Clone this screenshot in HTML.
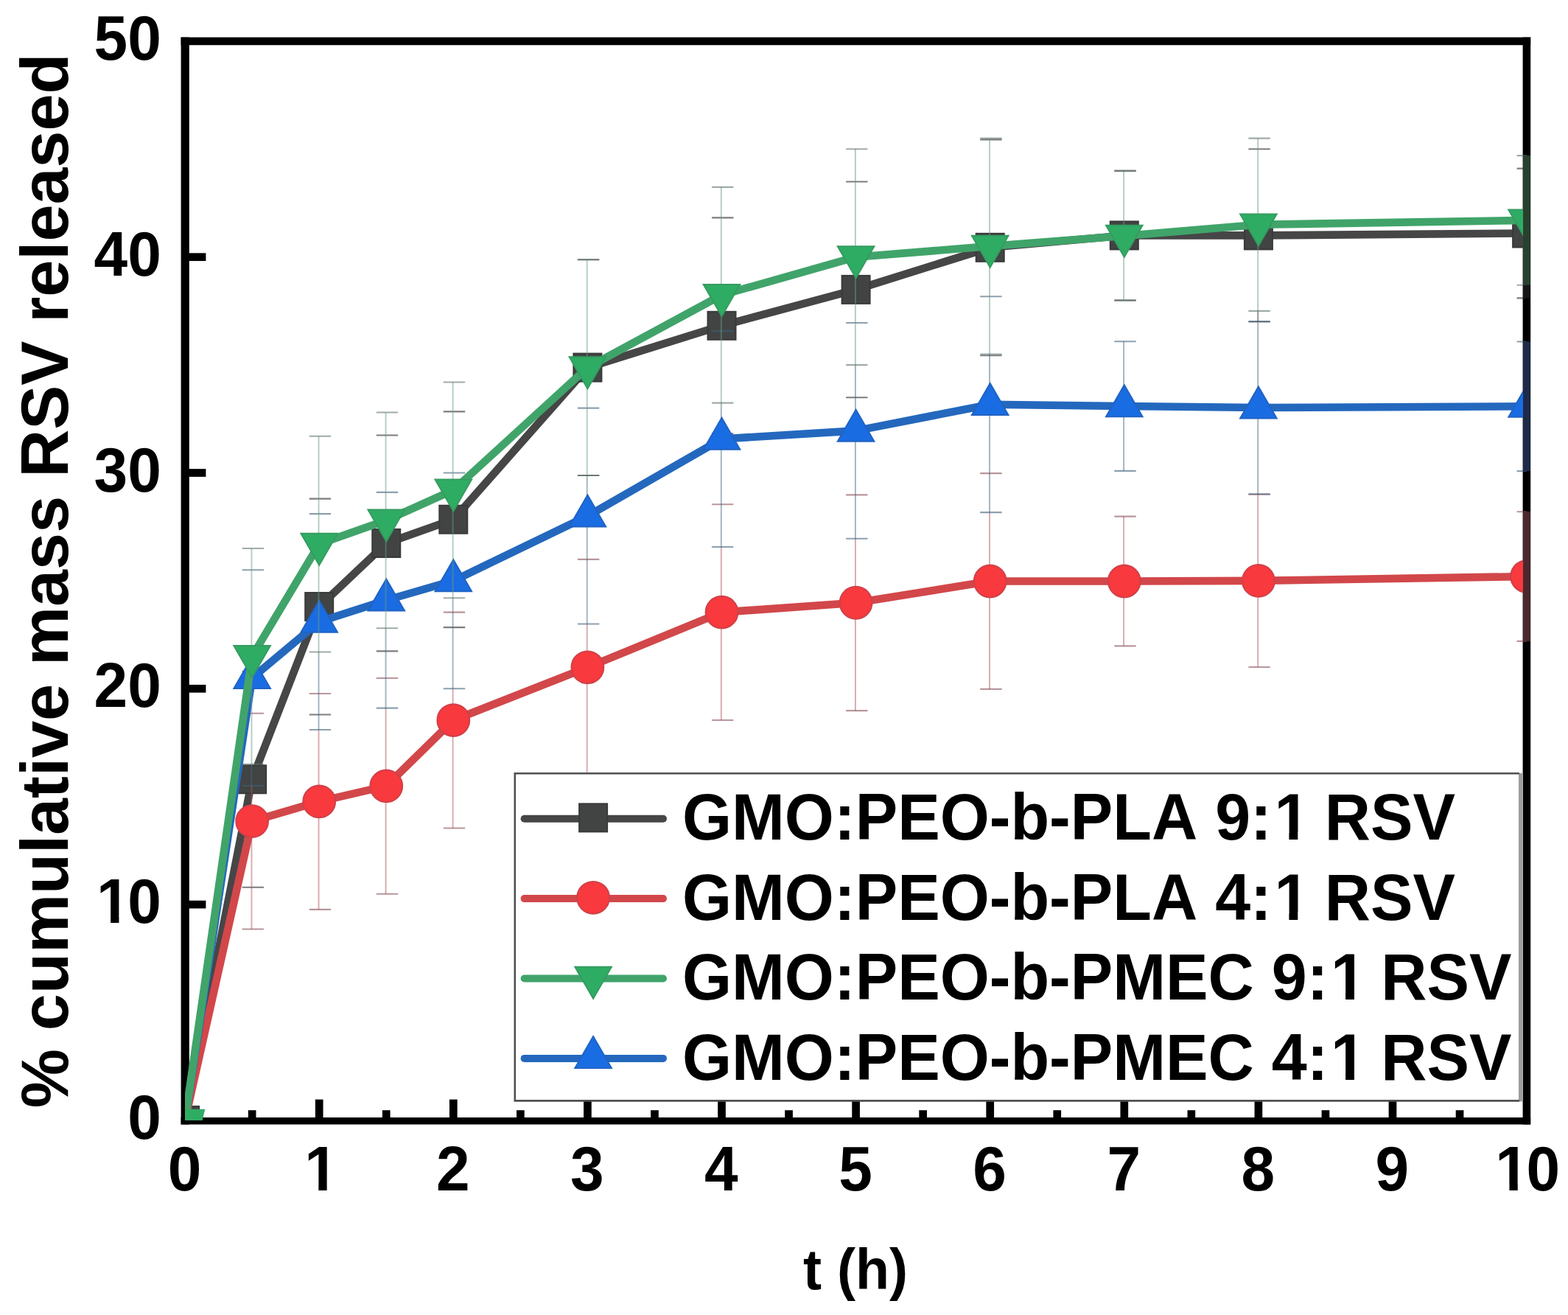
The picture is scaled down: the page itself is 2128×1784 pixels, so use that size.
<!DOCTYPE html>
<html lang="en"><head><meta charset="utf-8"><title>% cumulative mass RSV released vs t (h)</title>
<style>html,body{margin:0;padding:0;background:#fff;}body{width:2128px;height:1784px;overflow:hidden;}svg{display:block;}text{font-family:'Liberation Sans', sans-serif;font-weight:700;fill:#000;white-space:pre;font-kerning:none;}</style>
</head><body>
<svg width="2128" height="1784" viewBox="0 0 2128 1784">
<rect x="0" y="0" width="2128" height="1784" fill="#ffffff"/>
<defs><clipPath id="plotclip"><rect x="251.1" y="55.9" width="1821" height="1464"/></clipPath></defs>
<g id="frame" fill="#000">
<rect x="245.6" y="50.6" width="11.2" height="1474.9"/>
<rect x="2066.6" y="50.6" width="10.6" height="1474.9"/>
<rect x="245.6" y="50.6" width="1831.6" height="10.6"/>
<rect x="245.6" y="1516" width="1831.6" height="9.5"/>
<rect x="336.8" y="1506.2" width="10.7" height="10.8"/>
<rect x="427.85" y="1491.6" width="10.7" height="25.4"/>
<rect x="518.9" y="1506.2" width="10.7" height="10.8"/>
<rect x="609.95" y="1491.6" width="10.7" height="25.4"/>
<rect x="701" y="1506.2" width="10.7" height="10.8"/>
<rect x="792.05" y="1491.6" width="10.7" height="25.4"/>
<rect x="883.1" y="1506.2" width="10.7" height="10.8"/>
<rect x="974.15" y="1491.6" width="10.7" height="25.4"/>
<rect x="1065.2" y="1506.2" width="10.7" height="10.8"/>
<rect x="1156.25" y="1491.6" width="10.7" height="25.4"/>
<rect x="1247.3" y="1506.2" width="10.7" height="10.8"/>
<rect x="1338.35" y="1491.6" width="10.7" height="25.4"/>
<rect x="1429.4" y="1506.2" width="10.7" height="10.8"/>
<rect x="1520.45" y="1491.6" width="10.7" height="25.4"/>
<rect x="1611.5" y="1506.2" width="10.7" height="10.8"/>
<rect x="1702.55" y="1491.6" width="10.7" height="25.4"/>
<rect x="1793.6" y="1506.2" width="10.7" height="10.8"/>
<rect x="1884.65" y="1491.6" width="10.7" height="25.4"/>
<rect x="1975.7" y="1506.2" width="10.7" height="10.8"/>
<rect x="255.8" y="1221.75" width="23.6" height="10.7"/>
<rect x="255.8" y="928.95" width="23.6" height="10.7"/>
<rect x="255.8" y="636.15" width="23.6" height="10.7"/>
<rect x="255.8" y="343.35" width="23.6" height="10.7"/>
</g>
<g id="data" clip-path="url(#plotclip)">
<g class="series-black">
<polyline points="251.1,1519.9 342.15,1057.28 433.2,823.04 524.25,736.95 615.3,704.74 797.4,498.61 979.5,441.81 1161.6,392.91 1343.7,335.82 1525.8,319.42 1707.9,319.42 2072.1,316.49" fill="none" stroke="#464646" stroke-width="10.6" stroke-linejoin="round"/>
<path d="M1525.1 231.58V232.17M1707.2 421.9V435.95" fill="none" stroke="#2a2a2a" stroke-width="1.9" stroke-opacity="0.5"/>
<path d="M328.65 910.88H358.05M328.65 1203.68H358.05M419.7 676.64H449.1M419.7 969.44H449.1M510.75 590.55H540.15M510.75 883.35H540.15M601.8 558.34H631.2M601.8 851.14H631.2M783.9 352.21H813.3M783.9 645.01H813.3M966 295.41H995.4M966 588.21H995.4M1148.1 246.51H1177.5M1148.1 539.31H1177.5M1330.2 189.42H1359.6M1330.2 482.22H1359.6M1512.3 231.58H1541.7M1512.3 407.26H1541.7M1694.4 202.3H1723.8M1694.4 436.54H1723.8M2058.6 228.65H2088M2058.6 404.33H2088" fill="none" stroke="#262626" stroke-width="2.1" stroke-opacity="0.6"/>
<rect x="232.1" y="1500.9" width="38" height="38" fill="#414443" stroke="#3a3a3a" stroke-width="2"/>
<rect x="323.15" y="1038.28" width="38" height="38" fill="#414443" stroke="#3a3a3a" stroke-width="2"/>
<rect x="414.2" y="804.04" width="38" height="38" fill="#414443" stroke="#3a3a3a" stroke-width="2"/>
<rect x="505.25" y="717.95" width="38" height="38" fill="#414443" stroke="#3a3a3a" stroke-width="2"/>
<rect x="596.3" y="685.74" width="38" height="38" fill="#414443" stroke="#3a3a3a" stroke-width="2"/>
<rect x="778.4" y="479.61" width="38" height="38" fill="#414443" stroke="#3a3a3a" stroke-width="2"/>
<rect x="960.5" y="422.81" width="38" height="38" fill="#414443" stroke="#3a3a3a" stroke-width="2"/>
<rect x="1142.6" y="373.91" width="38" height="38" fill="#414443" stroke="#3a3a3a" stroke-width="2"/>
<rect x="1324.7" y="316.82" width="38" height="38" fill="#414443" stroke="#3a3a3a" stroke-width="2"/>
<rect x="1506.8" y="300.42" width="38" height="38" fill="#414443" stroke="#3a3a3a" stroke-width="2"/>
<rect x="1688.9" y="300.42" width="38" height="38" fill="#414443" stroke="#3a3a3a" stroke-width="2"/>
<rect x="2053.1" y="297.49" width="38" height="38" fill="#414443" stroke="#3a3a3a" stroke-width="2"/>
</g>
<g class="series-red">
<polyline points="251.1,1519.9 342.15,1114.08 433.2,1087.43 524.25,1066.35 615.3,977.05 797.4,905.31 979.5,830.65 1161.6,817.77 1343.7,788.49 1525.8,788.49 1707.9,787.9 2072.1,782.04" fill="none" stroke="#d2474a" stroke-width="10.6" stroke-linejoin="round"/>
<path d="M341.45 1066.06V1260.48M432.5 989.93V1233.83M523.55 960.65V1212.75M614.6 934.3V1123.45M796.7 846.46V1051.71M978.8 741.93V977.05M1160.9 730.8V964.17M1343 695.08V934.89M1525.1 700.65V876.33M1707.2 670.78V905.02" fill="none" stroke="#b1535d" stroke-width="1.9" stroke-opacity="0.5"/>
<path d="M328.65 967.68H358.05M328.65 1260.48H358.05M419.7 941.03H449.1M419.7 1233.83H449.1M510.75 919.95H540.15M510.75 1212.75H540.15M601.8 830.65H631.2M601.8 1123.45H631.2M783.9 758.91H813.3M783.9 1051.71H813.3M966 684.25H995.4M966 977.05H995.4M1148.1 671.37H1177.5M1148.1 964.17H1177.5M1330.2 642.09H1359.6M1330.2 934.89H1359.6M1512.3 700.65H1541.7M1512.3 876.33H1541.7M1694.4 670.78H1723.8M1694.4 905.02H1723.8M2058.6 694.2H2088M2058.6 869.88H2088" fill="none" stroke="#8a5058" stroke-width="2.1" stroke-opacity="0.6"/>
<circle cx="342.15" cy="1114.08" r="21.9" fill="#f8393d" stroke="#cf4148" stroke-width="2"/>
<circle cx="433.2" cy="1087.43" r="21.9" fill="#f8393d" stroke="#cf4148" stroke-width="2"/>
<circle cx="524.25" cy="1066.35" r="21.9" fill="#f8393d" stroke="#cf4148" stroke-width="2"/>
<circle cx="615.3" cy="977.05" r="21.9" fill="#f8393d" stroke="#cf4148" stroke-width="2"/>
<circle cx="797.4" cy="905.31" r="21.9" fill="#f8393d" stroke="#cf4148" stroke-width="2"/>
<circle cx="979.5" cy="830.65" r="21.9" fill="#f8393d" stroke="#cf4148" stroke-width="2"/>
<circle cx="1161.6" cy="817.77" r="21.9" fill="#f8393d" stroke="#cf4148" stroke-width="2"/>
<circle cx="1343.7" cy="788.49" r="21.9" fill="#f8393d" stroke="#cf4148" stroke-width="2"/>
<circle cx="1525.8" cy="788.49" r="21.9" fill="#f8393d" stroke="#cf4148" stroke-width="2"/>
<circle cx="1707.9" cy="787.9" r="21.9" fill="#f8393d" stroke="#cf4148" stroke-width="2"/>
<circle cx="2072.1" cy="782.04" r="21.9" fill="#f8393d" stroke="#cf4148" stroke-width="2"/>
</g>
<g class="series-blue">
<polyline points="251.1,1519.9 342.15,919.66 433.2,843.53 524.25,814.25 615.3,787.9 797.4,700.06 979.5,595.53 1161.6,584.4 1343.7,548.68 1525.8,551.02 1707.9,553.07 2072.1,551.32" fill="none" stroke="#2468be" stroke-width="10.6" stroke-linejoin="round"/>
<path d="M341.45 1036.78V1066.06M432.5 884.52V989.93M523.55 852.32V960.65M614.6 811.32V934.3M796.7 645.01V846.46M978.8 546.63V741.93M1160.9 495.1V730.8M1343 480.46V695.08M1525.1 463.18V638.86M1707.2 435.95V670.19" fill="none" stroke="#45677d" stroke-width="1.9" stroke-opacity="0.5"/>
<path d="M328.65 773.26H358.05M328.65 1066.06H358.05M419.7 697.13H449.1M419.7 989.93H449.1M510.75 667.85H540.15M510.75 960.65H540.15M601.8 641.5H631.2M601.8 934.3H631.2M783.9 553.66H813.3M783.9 846.46H813.3M966 449.13H995.4M966 741.93H995.4M1148.1 438H1177.5M1148.1 730.8H1177.5M1330.2 402.28H1359.6M1330.2 695.08H1359.6M1512.3 463.18H1541.7M1512.3 638.86H1541.7M1694.4 435.95H1723.8M1694.4 670.19H1723.8M2058.6 463.48H2088M2058.6 639.16H2088" fill="none" stroke="#3f617a" stroke-width="2.1" stroke-opacity="0.6"/>
<polygon points="317.38,933.99 366.92,933.99 342.15,890.99" fill="#1a6ce2" stroke="#2063c4" stroke-width="2"/>
<polygon points="408.43,857.87 457.97,857.87 433.2,814.87" fill="#1a6ce2" stroke="#2063c4" stroke-width="2"/>
<polygon points="499.48,828.59 549.02,828.59 524.25,785.59" fill="#1a6ce2" stroke="#2063c4" stroke-width="2"/>
<polygon points="590.53,802.23 640.07,802.23 615.3,759.23" fill="#1a6ce2" stroke="#2063c4" stroke-width="2"/>
<polygon points="772.63,714.39 822.17,714.39 797.4,671.39" fill="#1a6ce2" stroke="#2063c4" stroke-width="2"/>
<polygon points="954.73,609.86 1004.27,609.86 979.5,566.86" fill="#1a6ce2" stroke="#2063c4" stroke-width="2"/>
<polygon points="1136.83,598.74 1186.37,598.74 1161.6,555.74" fill="#1a6ce2" stroke="#2063c4" stroke-width="2"/>
<polygon points="1318.93,563.02 1368.47,563.02 1343.7,520.02" fill="#1a6ce2" stroke="#2063c4" stroke-width="2"/>
<polygon points="1501.03,565.36 1550.57,565.36 1525.8,522.36" fill="#1a6ce2" stroke="#2063c4" stroke-width="2"/>
<polygon points="1683.13,567.41 1732.67,567.41 1707.9,524.41" fill="#1a6ce2" stroke="#2063c4" stroke-width="2"/>
<polygon points="2047.33,565.65 2096.87,565.65 2072.1,522.65" fill="#1a6ce2" stroke="#2063c4" stroke-width="2"/>
</g>
<g class="series-green">
<polyline points="251.1,1519.9 342.15,890.38 433.2,738.12 524.25,705.92 615.3,664.92 797.4,498.61 979.5,400.23 1161.6,348.7 1343.7,334.06 1525.8,320.01 1707.9,304.78 2072.1,298.92" fill="none" stroke="#40a46a" stroke-width="10.6" stroke-linejoin="round"/>
<path d="M341.45 743.98V1036.78M432.5 591.72V884.52M523.55 559.52V852.32M614.6 518.52V811.32M796.7 352.21V645.01M978.8 253.83V546.63M1160.9 202.3V495.1M1343 187.66V480.46M1525.1 232.17V407.85M1707.2 187.66V421.9" fill="none" stroke="#679b81" stroke-width="1.9" stroke-opacity="0.5"/>
<path d="M328.65 743.98H358.05M328.65 1036.78H358.05M419.7 591.72H449.1M419.7 884.52H449.1M510.75 559.52H540.15M510.75 852.32H540.15M601.8 518.52H631.2M601.8 811.32H631.2M783.9 352.21H813.3M783.9 645.01H813.3M966 253.83H995.4M966 546.63H995.4M1148.1 202.3H1177.5M1148.1 495.1H1177.5M1330.2 187.66H1359.6M1330.2 480.46H1359.6M1512.3 232.17H1541.7M1512.3 407.85H1541.7M1694.4 187.66H1723.8M1694.4 421.9H1723.8M2058.6 211.08H2088M2058.6 386.76H2088" fill="none" stroke="#61756e" stroke-width="2.1" stroke-opacity="0.6"/>
<polygon points="251.1,1504.7 278.3,1504.7 274.7,1519.9 251.1,1519.9" fill="#2fac64"/>
<polygon points="317.38,876.05 366.92,876.05 342.15,919.05" fill="#2fac64" stroke="#349c60" stroke-width="2"/>
<polygon points="408.43,723.79 457.97,723.79 433.2,766.79" fill="#2fac64" stroke="#349c60" stroke-width="2"/>
<polygon points="499.48,691.58 549.02,691.58 524.25,734.58" fill="#2fac64" stroke="#349c60" stroke-width="2"/>
<polygon points="590.53,650.59 640.07,650.59 615.3,693.59" fill="#2fac64" stroke="#349c60" stroke-width="2"/>
<polygon points="772.63,484.28 822.17,484.28 797.4,527.28" fill="#2fac64" stroke="#349c60" stroke-width="2"/>
<polygon points="954.73,385.9 1004.27,385.9 979.5,428.9" fill="#2fac64" stroke="#349c60" stroke-width="2"/>
<polygon points="1136.83,334.37 1186.37,334.37 1161.6,377.37" fill="#2fac64" stroke="#349c60" stroke-width="2"/>
<polygon points="1318.93,319.73 1368.47,319.73 1343.7,362.73" fill="#2fac64" stroke="#349c60" stroke-width="2"/>
<polygon points="1501.03,305.67 1550.57,305.67 1525.8,348.67" fill="#2fac64" stroke="#349c60" stroke-width="2"/>
<polygon points="1683.13,290.45 1732.67,290.45 1707.9,333.45" fill="#2fac64" stroke="#349c60" stroke-width="2"/>
<polygon points="2047.33,284.59 2096.87,284.59 2072.1,327.59" fill="#2fac64" stroke="#349c60" stroke-width="2"/>
</g>
</g>
<g id="axis-tint">
<rect x="2067" y="386.76" width="9.8" height="17.57" fill="#161616"/>
<rect x="2067" y="694.2" width="9.8" height="175.68" fill="#4b282d"/>
<rect x="2067" y="463.48" width="9.8" height="175.68" fill="#1e2a48"/>
<rect x="2067" y="211.08" width="9.8" height="175.68" fill="#28412f"/>
</g>
<g id="legend">
<rect x="698.3" y="1049" width="1368.3" height="444.4" fill="#fff"/>
<rect x="2061" y="1049" width="5.6" height="445.4" fill="#9c9c9c"/>
<path d="M2062 1049.3H698.8V1493.4H2062" fill="none" stroke="#505050" stroke-width="2.6"/>
<line x1="711.6" y1="1110.7" x2="900" y2="1110.7" stroke="#464646" stroke-width="10" stroke-linecap="round"/>
<rect x="786.1" y="1090.4" width="38" height="38" fill="#414443" stroke="#3a3a3a" stroke-width="2"/>
<text transform="translate(926,1139.4) scale(1,1.04)" font-size="86.2" dx="0 0 0 0 0 0 0 0 0 0 0 0 0 0 0 0 3.62 -3.62">GMO:PEO-b-PLA 9:1 RSV</text><rect x="1731.92" y="1129.36" width="17.5" height="12.04" fill="#fff"/><rect x="1761.31" y="1129.36" width="16.38" height="12.04" fill="#fff"/>
<line x1="711.6" y1="1219.1" x2="900" y2="1219.1" stroke="#d2474a" stroke-width="10" stroke-linecap="round"/>
<circle cx="805.1" cy="1217.8" r="21.9" fill="#f8393d" stroke="#cf4148" stroke-width="2"/>
<text transform="translate(926,1247.8) scale(1,1.04)" font-size="86.2" dx="0 0 0 0 0 0 0 0 0 0 0 0 0 0 0 0 3.62 -3.62">GMO:PEO-b-PLA 4:1 RSV</text><rect x="1731.92" y="1237.76" width="17.5" height="12.04" fill="#fff"/><rect x="1761.31" y="1237.76" width="16.38" height="12.04" fill="#fff"/>
<line x1="711.6" y1="1327.5" x2="900" y2="1327.5" stroke="#40a46a" stroke-width="10" stroke-linecap="round"/>
<polygon points="780.33,1311.87 829.87,1311.87 805.1,1354.87" fill="#2fac64" stroke="#349c60" stroke-width="2"/>
<text transform="translate(926,1356.2) scale(1,1.04)" font-size="86.2" dx="0 0 0 0 0 0 0 0 0 0 0 0 0 0 0 0 0 3.62 -3.62">GMO:PEO-b-PMEC 9:1 RSV</text><rect x="1808.57" y="1346.16" width="17.5" height="12.04" fill="#fff"/><rect x="1837.96" y="1346.16" width="16.38" height="12.04" fill="#fff"/>
<line x1="711.6" y1="1435.9" x2="900" y2="1435.9" stroke="#2468be" stroke-width="10" stroke-linecap="round"/>
<polygon points="780.33,1448.93 829.87,1448.93 805.1,1405.93" fill="#1a6ce2" stroke="#2063c4" stroke-width="2"/>
<text transform="translate(926,1464.6) scale(1,1.04)" font-size="86.2" dx="0 0 0 0 0 0 0 0 0 0 0 0 0 0 0 0 0 3.62 -3.62">GMO:PEO-b-PMEC 4:1 RSV</text><rect x="1808.57" y="1454.56" width="17.5" height="12.04" fill="#fff"/><rect x="1837.96" y="1454.56" width="16.38" height="12.04" fill="#fff"/>
</g>
<g id="ticklabels">
<text transform="translate(227.7,1615.4) scale(1,1.04)" font-size="82">0</text>
<text transform="translate(409.8,1615.4) scale(1,1.04)" font-size="82" dx="3.44">1</text><rect x="415.7" y="1605.85" width="16.65" height="11.55" fill="#fff"/><rect x="443.66" y="1605.85" width="15.58" height="11.55" fill="#fff"/>
<text transform="translate(591.9,1615.4) scale(1,1.04)" font-size="82">2</text>
<text transform="translate(774,1615.4) scale(1,1.04)" font-size="82">3</text>
<text transform="translate(956.1,1615.4) scale(1,1.04)" font-size="82">4</text>
<text transform="translate(1138.2,1615.4) scale(1,1.04)" font-size="82">5</text>
<text transform="translate(1320.3,1615.4) scale(1,1.04)" font-size="82">6</text>
<text transform="translate(1502.4,1615.4) scale(1,1.04)" font-size="82">7</text>
<text transform="translate(1684.5,1615.4) scale(1,1.04)" font-size="82">8</text>
<text transform="translate(1866.6,1615.4) scale(1,1.04)" font-size="82">9</text>
<text transform="translate(2025.9,1615.4) scale(1,1.04)" font-size="82" dx="3.44 -3.44">10</text><rect x="2031.8" y="1605.85" width="16.65" height="11.55" fill="#fff"/><rect x="2059.76" y="1605.85" width="15.58" height="11.55" fill="#fff"/>
<text transform="translate(173.2,1544.9) scale(1,1.04)" font-size="82">0</text>
<text transform="translate(127.59,1252.1) scale(1,1.04)" font-size="82" dx="3.44 -3.44">10</text><rect x="133.49" y="1242.55" width="16.65" height="11.55" fill="#fff"/><rect x="161.46" y="1242.55" width="15.58" height="11.55" fill="#fff"/>
<text transform="translate(127.59,959.3) scale(1,1.04)" font-size="82">20</text>
<text transform="translate(127.59,666.5) scale(1,1.04)" font-size="82">30</text>
<text transform="translate(127.59,373.7) scale(1,1.04)" font-size="82">40</text>
<text transform="translate(127.59,80.9) scale(1,1.04)" font-size="82">50</text>
</g>
<text transform="translate(92.1,787.8) rotate(-90)" text-anchor="middle" font-size="90">% cumulative mass RSV released</text>
<text transform="translate(1161,1749) scale(0.965,1)" text-anchor="middle" font-size="78">t (h)</text>
</svg>
</body></html>
